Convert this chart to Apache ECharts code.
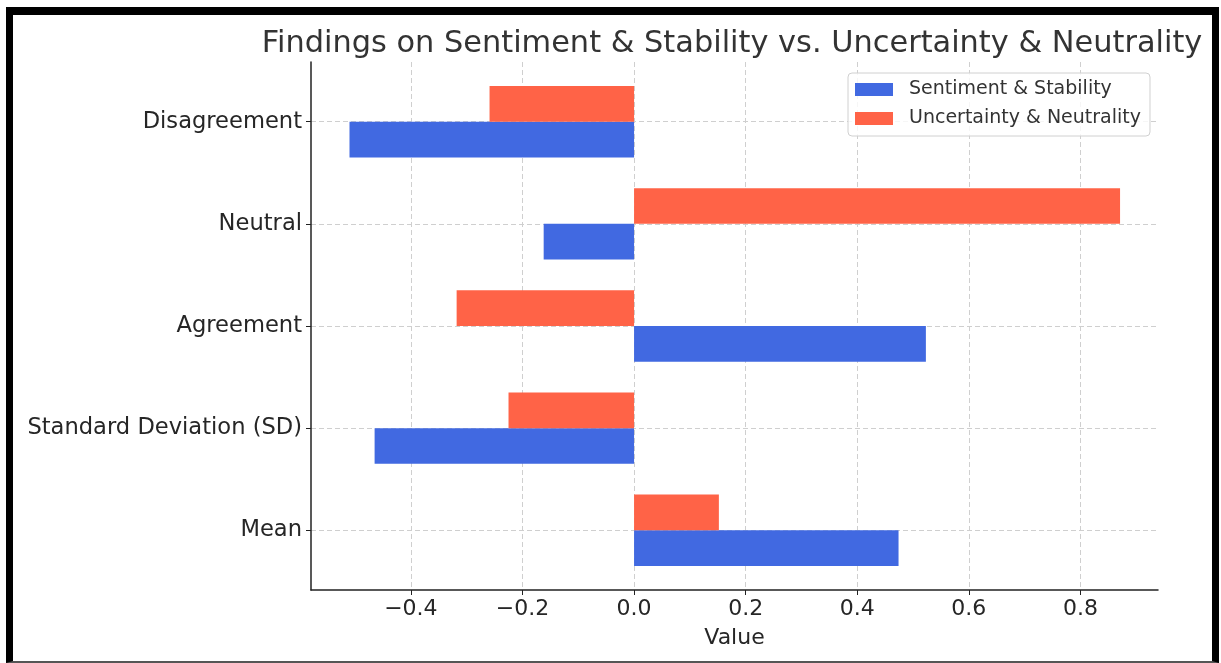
<!DOCTYPE html>
<html>
<head>
<meta charset="utf-8">
<script src="https://cdn.jsdelivr.net/npm/echarts@6/dist/echarts.min.js"></script>
<style>
  html, body { margin: 0; padding: 0; background: #fff; }
  .frame {
    position: absolute; left: 6px; top: 7px; width: 1199px; height: 646px;
    border-top: 8px solid #000; border-left: 7px solid #000; border-right: 7px solid #000;
    border-bottom: 2px solid #555;
  }
  #chart { position: absolute; left: 0; top: 0; width: 1221px; height: 663px; }
</style>
</head>
<body>
<div class="frame"></div>
<div id="chart"></div>
<script>
// 数据
const categories = ['Mean', 'Standard Deviation (SD)', 'Agreement', 'Neutral', 'Disagreement']
const sentiment = [0.474, -0.465, 0.523, -0.162, -0.510]
const uncertainty = [0.152, -0.225, -0.318, 0.871, -0.259]
const xTicks = [-0.4, -0.2, 0, 0.2, 0.4, 0.6, 0.8]

const barH = 0.35 // 每根条的高度（类目单位）

const chart = echarts.init(document.getElementById('chart'), null, { renderer: 'canvas' })

function renderBar(params, api) {
  const idx = api.value(1)
  const val = api.value(0)
  const side = params.seriesIndex === 0 ? -1 : 1 // 蓝色在下，橙色在上
  const p0 = api.coord([0, idx])
  const p1 = api.coord([val, idx + side * barH])
  return {
    type: 'rect',
    shape: {
      x: Math.min(p0[0], p1[0]),
      y: Math.min(p0[1], p1[1]),
      width: Math.abs(p1[0] - p0[0]),
      height: Math.abs(p1[1] - p0[1])
    },
    style: api.style()
  }
}

const font = 'DejaVu Sans'
const option = {
  animation: false,
  title: {
    text: 'Findings on Sentiment & Stability vs. Uncertainty & Neutrality',
    left: 727,
    textAlign: 'center',
    top: 24,
    textStyle: { fontFamily: font, fontSize: 30.4, fontWeight: 'normal', color: '#333' }
  },
  legend: {
    orient: 'vertical',
    left: 848,
    top: 73,
    padding: [7, 9, 8, 7],
    itemGap: 10,
    itemWidth: 38,
    itemHeight: 13,
    icon: 'rect',
    borderColor: '#d0d0d0',
    borderWidth: 1,
    borderRadius: 4,
    backgroundColor: 'rgba(255,255,255,0.8)',
    textStyle: { fontFamily: font, fontSize: 19, lineHeight: 19, color: '#333', padding: [0, 0, 0, 11] },
    data: ['Sentiment & Stability', 'Uncertainty & Neutrality']
  },
  grid: { left: 311, right: 63, top: 62, bottom: 73 },
  xAxis: {
    type: 'value',
    min: -0.579,
    max: 0.939,
    name: 'Value',
    nameLocation: 'middle',
    nameGap: 37,
    nameTextStyle: { fontFamily: font, fontSize: 22, color: '#262626' },
    axisLine: { onZero: false, lineStyle: { color: '#222', width: 1.5 } },
    axisTick: { show: true, length: 5, customValues: xTicks, lineStyle: { color: '#222' } },
    axisLabel: {
      customValues: xTicks,
      margin: 8,
      fontFamily: font, fontSize: 22, color: '#262626',
      formatter: v => (v < 0 ? '\u2212' : '') + Math.abs(v).toFixed(1)
    },
    splitLine: { show: true, lineStyle: { color: '#cfcfcf', type: [5, 3], width: 1 } }
  },
  yAxis: {
    type: 'value',
    min: -0.585,
    max: 4.585,
    axisLine: { show: true, onZero: false, lineStyle: { color: '#222', width: 1.5 } },
    axisTick: { show: true, length: 5, customValues: [0, 1, 2, 3, 4], lineStyle: { color: '#222' } },
    axisLabel: {
      customValues: [0, 1, 2, 3, 4],
      margin: 9,
      padding: [7, 0, 0, 0],
      fontFamily: font, fontSize: 22.6, color: '#262626',
      formatter: v => categories[Math.round(v)]
    },
    splitLine: { show: true, lineStyle: { color: '#cfcfcf', type: [5, 3], width: 1 } }
  },
  series: [
    {
      name: 'Sentiment & Stability',
      type: 'custom',
      renderItem: renderBar,
      itemStyle: { color: '#4169E1' },
      encode: { x: 0, y: 1 },
      data: sentiment.map((v, i) => [v, i])
    },
    {
      name: 'Uncertainty & Neutrality',
      type: 'custom',
      renderItem: renderBar,
      itemStyle: { color: '#FF6347' },
      encode: { x: 0, y: 1 },
      data: uncertainty.map((v, i) => [v, i])
    }
  ]
}
chart.setOption(option)
</script>
</body>
</html>
